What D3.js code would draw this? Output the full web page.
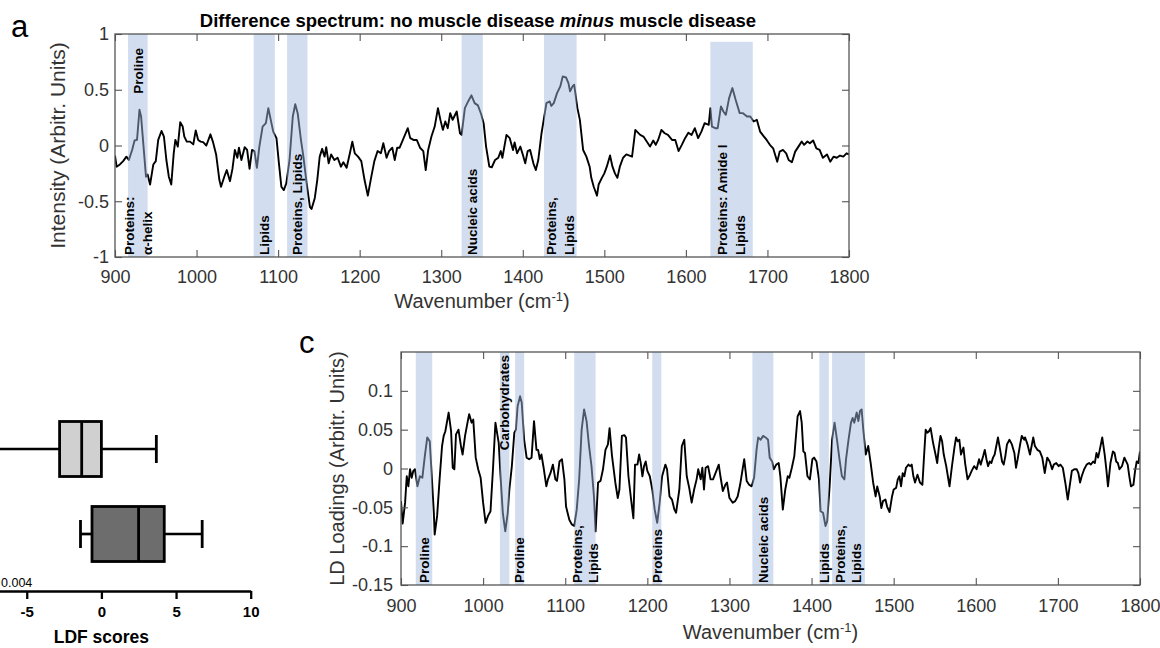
<!DOCTYPE html>
<html><head><meta charset="utf-8">
<script src="https://cdn.jsdelivr.net/npm/d3@7"></script>
<style>
body{margin:0;background:#fff;}
svg{display:block;font-family:"Liberation Sans",Arial,Helvetica,sans-serif;}
</style></head><body>
<svg id="chart" width="1160" height="648"></svg>
<script>
// ---------- Panel a: difference spectrum ----------
const waveA = [900,902,906,910,914,917,921,924,927,930,932,935,938,940,943,947,950,953,957,960,963,966,969,972,974,977,980,983,985,988,992,996,999,1002,1005,1008,1012,1017,1020,1024,1028,1030,1034,1037,1041,1044,1047,1050,1052,1055,1059,1062,1065,1068,1071,1074,1077,1081,1085,1088,1091,1094,1098,1101,1104,1107,1110,1114,1118,1121,1124,1128,1131,1135,1139,1141,1145,1148,1151,1154,1157,1159,1162,1165,1169,1173,1177,1180,1184,1188,1191,1194,1198,1202,1206,1210,1214,1218,1222,1226,1229,1233,1236,1240,1243,1246,1249,1253,1259,1262,1266,1270,1274,1278,1281,1284,1288,1292,1296,1299,1302,1305,1308,1311,1314,1316,1319,1323,1325,1329,1333,1337,1341,1345,1349,1352,1355,1359,1362,1366,1370,1373,1375,1380,1384,1388,1390,1393,1397,1400,1403,1406,1409,1413,1416,1419,1423,1426,1429,1433,1435,1438,1442,1446,1449,1453,1456,1458,1461,1463,1467,1470,1474,1478,1482,1484,1487,1491,1493,1497,1500,1503,1507,1510,1513,1516,1519,1523,1527,1534,1538,1540,1544,1548,1552,1556,1560,1563,1566,1570,1574,1578,1583,1587,1591,1595,1599,1603,1607,1611,1615,1619,1623,1628,1630,1632,1636,1639,1643,1646,1649,1653,1657,1661,1666,1670,1675,1679,1683,1687,1691,1695,1699,1703,1707,1712,1715,1719,1723,1726,1730,1734,1738,1742,1745,1749,1752,1756,1760,1764,1768,1773,1777,1781,1785,1789,1793,1797,1800];
const intensityA = [-0.09,-0.19,-0.17,-0.14,-0.10,-0.13,-0.04,0.045,0.05,0.32,0.26,-0.01,-0.28,-0.26,-0.35,-0.17,-0.14,0.05,0.13,0.08,-0.13,-0.28,-0.35,-0.07,0.05,-0.01,0.21,0.17,0.08,0.035,0.035,0.01,0.135,0.05,0.035,0.03,0.0,0.1,0.035,-0.08,-0.31,-0.37,-0.28,-0.22,-0.32,-0.21,-0.04,-0.11,-0.02,-0.13,-0.015,-0.04,-0.21,-0.04,-0.05,-0.2,-0.01,0.17,0.2,0.335,0.23,0.125,0.066,-0.16,-0.37,-0.4,-0.34,-0.13,0.26,0.37,0.29,0.05,-0.1,-0.34,-0.55,-0.57,-0.47,-0.31,-0.1,-0.03,-0.1,-0.015,-0.16,-0.08,-0.13,-0.11,-0.19,-0.15,-0.2,-0.07,0.035,-0.07,-0.1,-0.14,-0.31,-0.45,-0.29,-0.14,-0.05,-0.07,0.02,-0.11,-0.05,-0.02,-0.13,-0.02,-0.02,0.05,0.155,0.066,0.05,0.05,-0.02,-0.05,-0.22,-0.04,0.08,0.17,0.335,0.23,0.14,0.215,0.155,0.29,0.23,0.26,0.305,0.11,0.095,0.335,0.395,0.45,0.38,0.36,0.28,0.2,-0.01,-0.19,-0.195,-0.13,-0.11,-0.05,-0.11,0.095,0.066,-0.04,0.027,-0.07,-0.01,-0.08,-0.16,-0.05,-0.04,-0.16,-0.22,-0.13,0.11,0.245,0.38,0.395,0.355,0.38,0.47,0.53,0.62,0.61,0.56,0.485,0.53,0.545,0.335,0.23,-0.04,-0.1,-0.19,-0.29,-0.37,-0.45,-0.35,-0.29,-0.25,-0.19,-0.09,-0.19,-0.25,-0.29,-0.19,-0.11,-0.08,-0.1,0.14,0.125,0.095,0.08,0.036,-0.01,0.045,0.006,0.05,0.14,0.11,0.095,0.05,0.05,-0.05,0.006,0.066,0.115,0.095,0.155,0.066,0.125,0.2,0.185,0.335,0.17,0.155,0.155,0.35,0.305,0.275,0.425,0.515,0.41,0.29,0.29,0.26,0.26,0.215,0.23,0.125,0.087,0.05,0.006,-0.025,-0.145,-0.055,-0.04,-0.07,-0.13,-0.15,-0.055,-0.01,0.036,0.006,0.036,0.02,0.045,-0.025,-0.04,-0.11,-0.08,-0.145,-0.1,-0.11,-0.09,-0.1,-0.07,-0.08];
const xTicksA = [900,1000,1100,1200,1300,1400,1500,1600,1700,1800];
const yTicksA = [-1,-0.5,0,0.5,1];
const bandsA = [[916,940],[1070,1096],[1111,1136],[1325,1351],[1426,1466],[1630,1682]];
const bandTopA = [1,1,1,1,1,0.93];
const bottomLabelsA = [["Proteins:","α-helix"],["Lipids"],["Proteins, Lipids"],["Nucleic acids"],["Proteins,","Lipids"],["Proteins: Amide I","Lipids"]];
const topLabelsA = [["Proline"],[],[],[],[],[]];
const titleA = ["Difference spectrum: no muscle disease ", "minus", " muscle disease"];

// ---------- Panel c: LD loadings ----------
const waveC = [900,902,905,907,909,911,913,915,917,920,923,926,929,932,935,937,940,941,944,947,950,952,954,958,961,963,965,967,970,973,975,978,981,983,986,988,991,994,997,1000,1003,1006,1009,1012,1015,1019,1021,1024,1027,1030,1032,1035,1038,1040,1042,1045,1047,1050,1053,1056,1059,1062,1065,1067,1069,1071,1074,1077,1079,1082,1085,1088,1090,1093,1096,1099,1101,1105,1108,1111,1114,1117,1120,1123,1126,1129,1132,1135,1137,1140,1143,1146,1149,1152,1154,1157,1161,1164,1166,1169,1172,1174,1177,1180,1183,1185,1188,1190,1192,1194,1196,1198,1200,1203,1206,1209,1212,1215,1218,1222,1224,1227,1230,1233,1235,1239,1242,1245,1248,1251,1254,1257,1260,1262,1265,1267,1269,1271,1274,1277,1280,1283,1287,1289,1292,1295,1297,1300,1304,1307,1310,1313,1316,1318,1321,1324,1327,1330,1333,1335,1338,1341,1344,1347,1349,1352,1354,1357,1360,1362,1365,1368,1371,1373,1376,1379,1383,1386,1388,1390,1392,1395,1398,1401,1403,1406,1409,1411,1414,1417,1419,1422,1425,1428,1431,1434,1437,1440,1442,1445,1448,1450,1452,1455,1457,1459,1461,1463,1466,1469,1472,1475,1478,1480,1483,1485,1487,1490,1492,1495,1498,1500,1503,1505,1507,1509,1511,1513,1515,1518,1520,1522,1524,1526,1529,1532,1535,1537,1539,1541,1543,1545,1548,1551,1553,1555,1557,1559,1561,1564,1566,1568,1571,1574,1576,1578,1580,1582,1585,1587,1590,1593,1595,1598,1601,1604,1606,1609,1611,1613,1615,1617,1619,1621,1623,1625,1627,1630,1632,1634,1636,1638,1641,1644,1647,1649,1651,1654,1656,1659,1660,1663,1666,1668,1670,1672,1675,1678,1681,1684,1687,1690,1693,1695,1698,1701,1703,1706,1709,1712,1715,1717,1720,1723,1725,1727,1729,1732,1735,1738,1740,1743,1745,1747,1749,1751,1754,1757,1759,1761,1764,1767,1769,1771,1773,1775,1778,1781,1785,1787,1789,1792,1794,1796,1798,1800];
const loadingC = [-0.042,-0.071,-0.044,-0.01,-0.023,-0.001,-0.012,-0.003,-0.001,-0.023,-0.01,-0.012,0.016,0.04,0.035,-0.001,-0.057,-0.085,-0.061,-0.014,0.029,0.042,0.048,0.072,0.048,0.001,-0.001,0.044,0.05,0.029,0.018,0.042,0.059,0.07,0.059,0.063,0.014,-0.001,-0.012,-0.044,-0.07,-0.061,-0.055,-0.001,0.059,0.033,-0.006,-0.057,-0.081,-0.057,-0.027,0.003,0.046,0.05,0.08,0.093,0.085,0.037,0.014,0.012,0.014,0.061,0.024,0.024,0.012,0.018,-0.001,-0.023,-0.014,-0.006,0.005,-0.014,-0.016,0.009,0.012,-0.014,-0.049,-0.066,-0.072,-0.074,-0.053,-0.014,0.05,0.076,0.061,0.029,0.003,-0.036,-0.081,-0.018,-0.016,-0.001,0.024,0.031,0.052,0.016,-0.018,-0.038,-0.027,0.042,0.043,0.04,-0.01,-0.038,-0.064,0.005,0.005,0.018,0.007,-0.01,0.003,0.009,-0.003,-0.01,-0.027,-0.053,-0.07,-0.044,-0.01,0.005,-0.001,-0.036,-0.04,-0.053,-0.057,-0.027,0.029,0.037,-0.01,-0.025,-0.044,-0.027,-0.014,-0.001,-0.014,0.001,-0.027,0.001,0.003,-0.014,-0.014,-0.006,0.005,-0.01,-0.029,-0.021,-0.018,-0.038,-0.044,-0.042,-0.036,-0.021,-0.001,0.012,-0.016,-0.021,-0.023,-0.012,0.024,0.04,0.037,0.042,0.04,0.037,0.014,0.009,-0.001,0.005,0.007,-0.01,-0.053,-0.027,-0.01,-0.012,0.001,0.016,0.067,0.074,0.059,0.022,0.02,-0.01,-0.014,0.012,0.014,0.009,-0.014,-0.055,-0.057,-0.074,-0.068,-0.023,0.037,0.059,0.037,0.012,-0.01,-0.014,0.012,0.037,0.059,0.065,0.059,0.072,0.061,0.074,0.076,0.05,0.018,0.029,0.007,-0.018,-0.036,-0.023,-0.036,-0.051,-0.042,-0.04,-0.049,-0.056,-0.036,-0.027,-0.025,-0.014,-0.01,-0.023,-0.006,-0.01,0.001,0.005,0.003,0.005,-0.01,-0.018,-0.008,-0.018,-0.021,0.016,0.05,0.046,0.048,0.052,0.033,0.018,0.007,0.027,0.042,0.035,0.018,0.003,-0.01,-0.023,0.003,0.027,0.04,0.035,0.037,0.018,0.027,0.007,-0.014,-0.008,-0.003,0.003,-0.001,0.012,0.005,0.016,0.024,0.012,0.003,0.009,0.007,0.014,0.018,0.029,0.04,0.022,0.009,0.005,0.016,0.031,0.037,0.031,0.02,0.001,0.012,0.031,0.042,0.037,0.04,0.031,0.018,0.029,0.04,0.029,0.024,0.022,0.014,-0.006,0.014,0.009,-0.001,0.005,0.007,0.003,0.005,0.001,-0.018,-0.04,-0.018,-0.003,-0.001,-0.001,-0.006,-0.018,-0.01,-0.001,0.005,0.007,0.005,0.009,0.007,0.02,0.014,0.024,0.04,0.018,-0.001,-0.023,0.007,0.022,0.02,0.009,0.007,-0.001,0.003,0.014,0.005,-0.01,-0.023,-0.021,-0.003,0.009,0.007,0.022];
const xTicksC = [900,1000,1100,1200,1300,1400,1500,1600,1700,1800];
const yTicksC = [-0.15,-0.1,-0.05,0,0.05,0.1];
const bandsC = [[918,938],[1020.5,1032],[1039,1050],[1111,1137],[1206,1217],[1328,1353.5],[1409.5,1421],[1425,1465]];
const bandTopC = [0.15,0.15,0.15,0.15,0.15,0.15,0.15,0.15];
const bottomLabelsC = [["Proline"],[],["Proline"],["Proteins,","Lipids"],["Proteins"],["Nucleic acids"],["Lipids"],["Proteins,","Lipids"]];
const topLabelsC = [[],["Carbohydrates"],[],[],[],[],[],[]];

// ---------- Panel b: LDF scores box plot ----------
const groupsB = ["No muscle disease","Muscle disease"];
const minB = [-9, -1.4];
const q1B = [-2.8, -0.63];
const medianB = [-1.32, 2.49];
const q3B = [0, 4.21];
const maxB = [3.68, 6.75];
const xTicksB = [-5,0,5,10];
const pValueB = "0.004";

// ================= drawing =================
const svg = d3.select("#chart");
const FONT = '"Liberation Sans",Arial,Helvetica,sans-serif';

function drawPanel(cfg){
  const g = svg.append("g");
  const [x0,x1] = cfg.x.range();
  const [yb,yt] = cfg.y.range();
  const clipId = cfg.id + "-clip";
  svg.append("defs").append("clipPath").attr("id",clipId)
    .append("rect").attr("x",x0).attr("y",yt).attr("width",x1-x0).attr("height",yb-yt);

  const line = d3.line().x(d=>cfg.x(d[0])).y(d=>cfg.y(d[1]));
  g.append("path").datum(d3.zip(cfg.wave,cfg.vals))
    .attr("clip-path",`url(#${clipId})`)
    .attr("d",line).attr("fill","none").attr("stroke","#000")
    .attr("stroke-width",1.9).attr("stroke-linejoin","round");

  // shaded bands (drawn over the line with transparency)
  g.selectAll("rect.band").data(cfg.bands).join("rect").attr("class","band")
    .attr("x",d=>cfg.x(d[0])).attr("width",d=>cfg.x(d[1])-cfg.x(d[0]))
    .attr("y",(d,i)=>cfg.y(cfg.bandTop[i]))
    .attr("height",(d,i)=>yb-cfg.y(cfg.bandTop[i]))
    .attr("fill","rgb(160,184,222)").attr("fill-opacity",0.48);

  // band labels
  const fs = cfg.labelSize;
  cfg.bands.forEach((b,i)=>{
    const cx = (cfg.x(b[0])+cfg.x(b[1]))/2;
    const put = (lines, y, anchor)=>{
      const n = lines.length;
      lines.forEach((t,j)=>{
        const bx = cx + (j-(n-1)/2)*cfg.lineGap + 0.358*fs;
        g.append("text").attr("transform",`translate(${bx},${y}) rotate(-90)`)
          .attr("text-anchor",anchor).attr("font-size",fs).attr("font-weight","bold")
          .attr("fill","#000").text(t);
      });
    };
    put(cfg.bottomLabels[i], yb-2, "start");
    put(cfg.topLabels[i], yt+cfg.topPad, "end");
  });

  const styleAxis = (sel, size)=>{
    sel.select(".domain").remove();
    sel.selectAll(".tick line").attr("stroke","#555").attr("stroke-width",1.1);
    sel.selectAll(".tick text").attr("fill","#333").attr("font-size",size).attr("font-family",FONT);
  };
  const fmt = d=>String(d);
  g.append("g").attr("transform",`translate(0,${yb})`)
    .call(d3.axisBottom(cfg.x).tickValues(cfg.xTicks).tickSize(-7).tickSizeOuter(0).tickPadding(cfg.xPad).tickFormat(fmt))
    .call(s=>styleAxis(s,18));
  g.append("g").attr("transform",`translate(0,${yt})`)
    .call(d3.axisTop(cfg.x).tickValues(cfg.xTicks).tickSize(-7).tickSizeOuter(0).tickFormat(""))
    .call(s=>styleAxis(s,18));
  g.append("g").attr("transform",`translate(${x0},0)`)
    .call(d3.axisLeft(cfg.y).tickValues(cfg.yTicks).tickSize(-7).tickSizeOuter(0).tickPadding(cfg.yPad).tickFormat(fmt))
    .call(s=>styleAxis(s,18));
  g.append("g").attr("transform",`translate(${x1},0)`)
    .call(d3.axisRight(cfg.y).tickValues(cfg.yTicks).tickSize(-7).tickSizeOuter(0).tickFormat(""))
    .call(s=>styleAxis(s,18));
  g.append("rect").attr("x",x0).attr("y",yt).attr("width",x1-x0).attr("height",yb-yt)
    .attr("fill","none").attr("stroke","#555").attr("stroke-width",1.3);

  // axis titles
  const xl = g.append("text").attr("x",(x0+x1)/2).attr("y",cfg.xLabelY)
    .attr("text-anchor","middle").attr("font-size",20).attr("fill","#333");
  xl.append("tspan").text("Wavenumber (cm");
  xl.append("tspan").attr("font-size",13).attr("dy",-7).text("-1");
  xl.append("tspan").attr("dy",7).text(")");
  g.append("text").attr("transform",`translate(${cfg.yLabelX},${(yb+yt)/2}) rotate(-90)`)
    .attr("text-anchor","middle").attr("font-size",cfg.yLabelSize).attr("fill","#333").text(cfg.yLabel);
  g.append("text").attr("x",cfg.panelXY[0]).attr("y",cfg.panelXY[1])
    .attr("font-size",31).attr("fill","#000").text(cfg.panel);
  return g;
}

// panel a
const xA = d3.scaleLinear().domain([900,1800]).range([115,849]);
const yA = d3.scaleLinear().domain([-1,1]).range([257,34]);
drawPanel({id:"a",x:xA,y:yA,wave:waveA,vals:intensityA,bands:bandsA,bandTop:bandTopA,
  bottomLabels:bottomLabelsA,topLabels:topLabelsA,labelSize:13.5,lineGap:18,topPad:14,
  xTicks:xTicksA,yTicks:yTicksA,xPad:13,yPad:6,xLabelY:308,yLabelX:65,yLabelSize:21,
  yLabel:"Intensity (Arbitr. Units)",panel:"a",panelXY:[11,37]});
const title = svg.append("text").attr("x",478).attr("y",27).attr("text-anchor","middle")
  .attr("font-size",18.5).attr("font-weight","bold").attr("fill","#000");
title.append("tspan").text(titleA[0]);
title.append("tspan").attr("font-style","italic").text(titleA[1]);
title.append("tspan").text(titleA[2]);

// panel c
const xC = d3.scaleLinear().domain([900,1800]).range([401,1140]);
const yC = d3.scaleLinear().domain([-0.15,0.15]).range([585,352]);
drawPanel({id:"c",x:xC,y:yC,wave:waveC,vals:loadingC,bands:bandsC,bandTop:bandTopC,
  bottomLabels:bottomLabelsC,topLabels:topLabelsC,labelSize:13.5,lineGap:16,topPad:3,
  xTicks:xTicksC,yTicks:yTicksC,xPad:14,yPad:8,xLabelY:639,yLabelX:344,yLabelSize:20,
  yLabel:"LD Loadings (Arbitr. Units)",panel:"c",panelXY:[299,353]});

// panel b (box plot, cropped at left edge)
const xB = d3.scaleLinear().domain([-10,10]).range([-47.9,250.7]);
const yB = d3.scalePoint().domain(groupsB).range([449,534]);
const gb = svg.append("g");
const boxH = 55, capH = 28, boxFill = ["#d0d0d0","#6d6d6d"];
groupsB.forEach((grp,i)=>{
  const y = yB(grp);
  gb.append("line").attr("x1",xB(minB[i])).attr("x2",xB(q1B[i])).attr("y1",y).attr("y2",y).attr("stroke","#000").attr("stroke-width",2.7);
  gb.append("line").attr("x1",xB(q3B[i])).attr("x2",xB(maxB[i])).attr("y1",y).attr("y2",y).attr("stroke","#000").attr("stroke-width",2.7);
  [minB[i],maxB[i]].forEach(v=>{
    gb.append("line").attr("x1",xB(v)).attr("x2",xB(v)).attr("y1",y-capH/2).attr("y2",y+capH/2).attr("stroke","#000").attr("stroke-width",2.8);
  });
  gb.append("rect").attr("x",xB(q1B[i])).attr("width",xB(q3B[i])-xB(q1B[i]))
    .attr("y",y-boxH/2).attr("height",boxH).attr("fill",boxFill[i]).attr("stroke","#000").attr("stroke-width",2.8);
  gb.append("line").attr("x1",xB(medianB[i])).attr("x2",xB(medianB[i])).attr("y1",y-boxH/2).attr("y2",y+boxH/2).attr("stroke","#000").attr("stroke-width",2.8);
});
const axB = gb.append("g").attr("transform","translate(0,591)")
  .call(d3.axisBottom(xB).tickValues(xTicksB).tickSize(8).tickSizeOuter(0).tickPadding(7).tickFormat(d=>String(d)));
axB.select(".domain").attr("stroke","#000").attr("stroke-width",2.3);
axB.selectAll(".tick line").attr("stroke","#000").attr("stroke-width",2.3);
axB.selectAll(".tick text").attr("fill","#000").attr("font-size",15).attr("font-weight","bold").attr("font-family",FONT);
gb.append("text").attr("x",xB(0)).attr("y",643).attr("text-anchor","middle")
  .attr("font-size",17.5).attr("font-weight","bold").attr("fill","#000").text("LDF scores");
gb.append("text").attr("x",1).attr("y",587).attr("text-anchor","start")
  .attr("font-size",12.5).attr("fill","#000").text(pValueB);
</script>
</body></html>
